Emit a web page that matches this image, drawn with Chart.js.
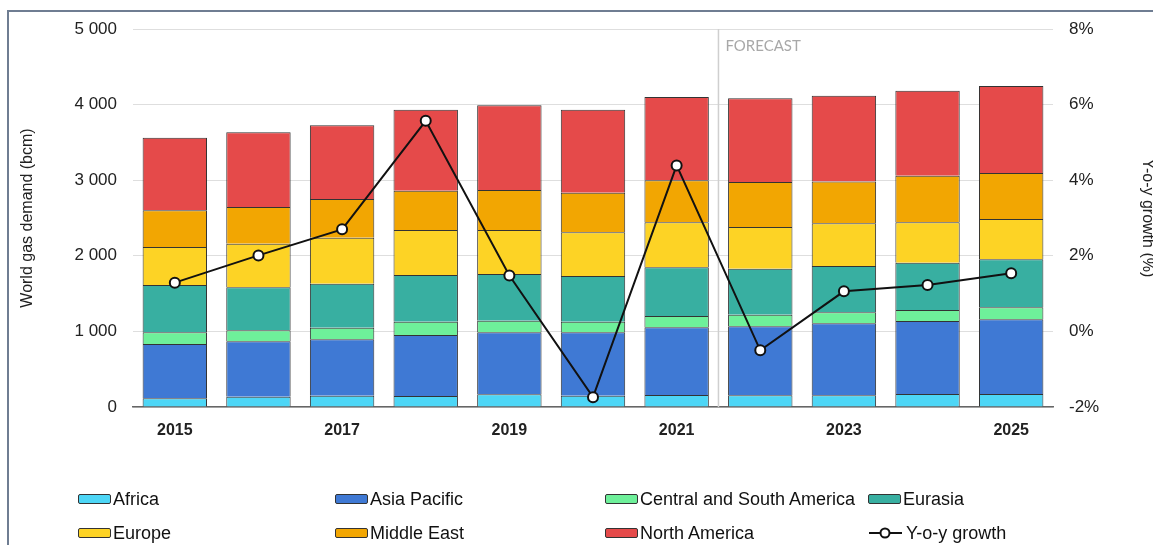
<!DOCTYPE html>
<html>
<head>
<meta charset="utf-8">
<script src="https://cdn.jsdelivr.net/npm/chart.js@4.4.0/dist/chart.umd.min.js"></script>
<style>
  html, body { margin: 0; padding: 0; background: #fff; }
  #wrap { position: relative; width: 1153px; height: 545px; overflow: hidden; }
  #frame { position: absolute; left: 7px; top: 10px; right: -10px; bottom: -10px;
           border-left: 2px solid #6f7d92; border-top: 2px solid #6f7d92; }
  canvas { position: absolute; left: 0; top: 0; }
  .leg { position: absolute; display: flex; align-items: center; height: 20px;
         font-family: "Liberation Sans", Arial, sans-serif; font-size: 18px; color: #111; white-space: nowrap; }
  .leg .box { width: 31px; height: 8px; border: 1.5px solid #333; border-radius: 2px; margin-right: 2px; }
</style>
</head>
<body>
<div id="wrap">
  <div id="frame"></div>
  <canvas id="chart" width="1153" height="545"></canvas>
  <div id="legend"></div>
</div>
<script>
// categories
const years = ['2015','2016','2017','2018','2019','2020','2021','2022','2023','2024','2025'];

// world gas demand by region (bcm)
const africa       = [115, 137, 150, 145, 168, 150, 159, 155, 155, 172, 172];
const asiaPacific  = [718, 732, 745, 807, 820, 838, 895, 912, 952, 966, 988];
const centralSouth = [155, 146, 154, 176, 154, 140, 150, 154, 145, 145, 159];
const eurasia      = [626, 568, 582, 618, 617, 605, 643, 609, 613, 626, 634];
const europe       = [502, 577, 609, 595, 582, 578, 596, 551, 565, 534, 534];
const middleEast   = [486, 486, 511, 519, 529, 524, 556, 595, 554, 616, 608];
const northAmerica = [960, 988, 975, 1073, 1120, 1098, 1102, 1107, 1134, 1125, 1151];

// year-on-year growth (%)
const yoyGrowth = [1.29, 2.01, 2.70, 5.57, 1.48, -1.74, 4.39, -0.50, 1.06, 1.23, 1.54];

const forecastAfter = 6; // forecast starts after 2021

const font = '"Liberation Sans", Arial, sans-serif';

function bar(label, data, color) {
  return {
    type: 'bar', label: label, data: data, backgroundColor: color,
    borderColor: '#333', borderWidth: 1, yAxisID: 'y', order: 1,
    barPercentage: 0.77, categoryPercentage: 1.0
  };
}

const forecastLine = {
  id: 'forecastLine',
  beforeDatasetsDraw(chart) {
    const x = chart.scales.x;
    const area = chart.chartArea;
    const px = (x.getPixelForValue(forecastAfter) + x.getPixelForValue(forecastAfter + 1)) / 2;
    const ctx = chart.ctx;
    ctx.save();
    ctx.strokeStyle = '#cfcfcf';
    ctx.lineWidth = 1.5;
    ctx.beginPath();
    ctx.moveTo(px, area.top);
    ctx.lineTo(px, area.bottom);
    ctx.stroke();
    ctx.fillStyle = '#a8a8a8';
    ctx.font = '15px Lato, "Open Sans", sans-serif';
    ctx.textBaseline = 'middle';
    ctx.fillText('FORECAST', px + 7, area.top + 17);
    ctx.restore();
  }
};

const chart = new Chart(document.getElementById('chart'), {
  data: {
    labels: years,
    datasets: [
      bar('Africa', africa, '#4dd6f6'),
      bar('Asia Pacific', asiaPacific, '#3f79d4'),
      bar('Central and South America', centralSouth, '#6ef09a'),
      bar('Eurasia', eurasia, '#38afa1'),
      bar('Europe', europe, '#fdd325'),
      bar('Middle East', middleEast, '#f2a602'),
      bar('North America', northAmerica, '#e54a4a'),
      {
        type: 'line', label: 'Y-o-y growth', data: yoyGrowth, yAxisID: 'y1', order: 0,
        borderColor: '#111', borderWidth: 2, pointRadius: 5, pointBorderWidth: 2,
        pointBackgroundColor: '#fff', pointBorderColor: '#111', tension: 0
      }
    ]
  },
  options: {
    responsive: false,
    animation: false,
    layout: { padding: { top: 29, bottom: 98, left: 0, right: 0 } },
    plugins: { legend: { display: false }, tooltip: { enabled: false } },
    scales: {
      x: {
        stacked: true,
        offset: true,
        grid: { display: false, drawTicks: false },
        border: { display: true, color: '#666', width: 1.5 },
        ticks: {
          autoSkip: false, maxRotation: 0, padding: 14, color: '#222',
          font: { family: font, size: 16, weight: 'bold' },
          callback: function (v, i) { return i % 2 === 0 ? this.getLabelForValue(v) : ''; }
        },
        afterFit(s) { s.height = 40; }
      },
      y: {
        stacked: true, position: 'left', min: 0, max: 5000,
        grid: { color: '#dedede', lineWidth: 1, drawTicks: false },
        border: { display: false },
        ticks: {
          stepSize: 1000, padding: 16, color: '#222',
          font: { family: font, size: 17 },
          callback: v => v === 0 ? '0' : String(v).replace(/\B(?=(\d{3})+(?!\d))/g, ' ')
        },
        title: {
          display: true, text: 'World gas demand (bcm)', color: '#222',
          font: { family: font, size: 16 }, padding: { top: 18, bottom: 0 }
        },
        afterFit(s) { s.width = 133; }
      },
      y1: {
        position: 'right', min: -2, max: 8,
        grid: { display: false, drawTicks: false },
        border: { display: false },
        ticks: {
          stepSize: 2, padding: 16, color: '#222',
          font: { family: font, size: 17 },
          callback: v => v + '%'
        },
        title: {
          display: true, text: 'Y-o-y growth (%)', color: '#222',
          font: { family: font, size: 16 }, padding: { top: -4, bottom: 0 }
        },
        afterFit(s) { s.width = 100; }
      }
    }
  },
  plugins: [forecastLine]
});

// legend laid out in four columns, two rows, built from the chart's datasets
const legCols = [78, 335, 605, 868];
const legRows = [489, 523];
const legend = document.getElementById('legend');
chart.data.datasets.forEach((ds, i) => {
  const el = document.createElement('div');
  el.className = 'leg';
  el.style.left = legCols[i % 4] + 'px';
  el.style.top = legRows[Math.floor(i / 4)] + 'px';
  if (ds.type === 'bar') {
    el.innerHTML = '<span class="box" style="background:' + ds.backgroundColor + '"></span>' + ds.label;
  } else {
    el.innerHTML = '<svg width="36" height="14" style="margin-right:2px"><line x1="1" y1="7" x2="34" y2="7" stroke="#111" stroke-width="2"/>' +
      '<circle cx="17" cy="7" r="4.5" fill="#fff" stroke="#111" stroke-width="2"/></svg>' + ds.label;
  }
  legend.appendChild(el);
});
</script>
</body>
</html>
